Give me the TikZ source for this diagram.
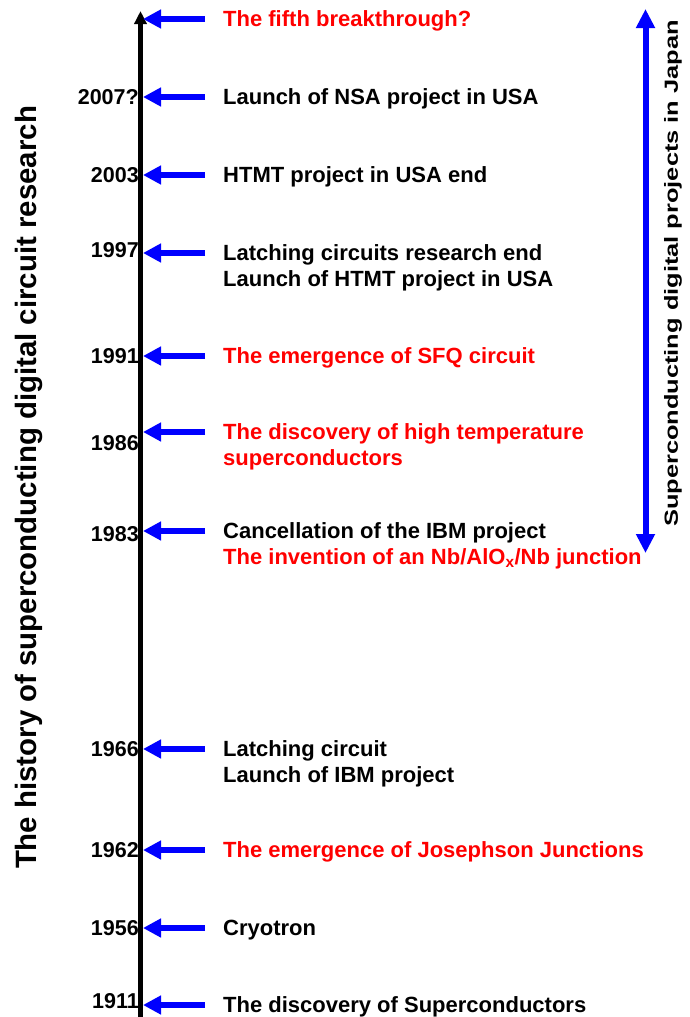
\documentclass[tikz,border=0pt]{standalone}
\usepackage{fontspec}
\setmainfont{Liberation Sans}
\usepackage{graphicx}
\usetikzlibrary{arrows.meta}
\definecolor{bleuFleche}{HTML}{0000FF}
\definecolor{rougeEvt}{HTML}{FF0000}
\tikzset{
  %% -- Axis and arrows --------------------------------------------------
  axe/.style         = {draw=black, line width=4.5pt,
                        -{Triangle[length=13pt, width=12pt]}},
  flecheEvt/.style   = {draw=bleuFleche, line width=6.5pt,
                        -{Triangle[length=18pt, width=18pt]}},
  flecheJapon/.style = {draw=bleuFleche, line width=6pt,
                        {Triangle[length=19pt, width=18pt]}-{Triangle[length=19pt, width=18pt]}},
  %%
  %% -- Text -------------------------------------------------------------
  %% every event line gets the same box, so its west anchor sits on the
  %% middle of the capitals, where the arrow comes in
  evt/.style         = {anchor=west, inner sep=0pt, text height=15.5pt,
                        text depth=0pt, font=\fontsize{22}{26}\selectfont\bfseries},
  evtRouge/.style    = {evt, text=rougeEvt},
  annee/.style       = {anchor=east, inner sep=0pt, text height=15pt,
                        text depth=0pt, font=\fontsize{21.5}{25}\selectfont\bfseries},
  titreVertical/.style = {rotate=90, inner sep=0pt, font=\bfseries},
}

\begin{document}
\begin{tikzpicture}[x=1pt, y=-1pt]
\useasboundingbox (0, 0) rectangle (689, 1017);

%% time axis
\coordinate (axeBas) at (140.5, 1017);
\coordinate (axeHaut) at (140.5, 11);
\draw[axe] (axeBas) -- (axeHaut);

%% years
\node[annee] (a2007) at (139, 97)  {2007?};
\node[annee] (a2003) at (139, 175) {2003};
\node[annee] (a1997) at (139, 250) {1997};
\node[annee] (a1991) at (139, 356) {1991};
\node[annee] (a1986) at (139, 443) {1986};
\node[annee] (a1983) at (139, 534) {1983};
\node[annee] (a1966) at (139, 749) {1966};
\node[annee] (a1962) at (139, 850) {1962};
\node[annee] (a1956) at (139, 928) {1956};
\node[annee] (a1911) at (139, 1001) {1911};

%% events
\node[evtRouge] (eNext) at (223, 19)  {The fifth breakthrough?};
\node[evt] (e2007)  at (223, 97)  {Launch of NSA project in USA};
\node[evt] (e2003)  at (223, 175) {HTMT project in USA end};
\node[evt] (e1997a) at (223, 253) {Latching circuits research end};
\node[evt] (e1997b) at (223, 279) {Launch of HTMT project in USA};
\node[evtRouge] (e1991) at (223, 356) {The emergence of SFQ circuit};
\node[evtRouge] (e1986a) at (223, 432) {The discovery of high temperature};
\node[evtRouge] (e1986b) at (223, 458) {superconductors};
\node[evt] (e1983a) at (223, 531) {Cancellation of the IBM project};
\node[evtRouge] (e1983b) at (223, 557) {The invention of an Nb/AlO\textsubscript{x}/Nb junction};
\node[evt] (e1966a) at (223, 749) {Latching circuit};
\node[evt] (e1966b) at (223, 775) {Launch of IBM project};
\node[evtRouge] (e1962) at (223, 850) {The emergence of Josephson Junctions};
\node[evt] (e1956)  at (223, 928) {Cryotron};
\node[evt] (e1911)  at (223, 1005) {The discovery of Superconductors};

%% arrows onto the axis
\draw[flecheEvt] ([xshift=-18pt]eNext.west)  -- ([xshift=2.5pt]eNext.west -| axeBas);
\draw[flecheEvt] ([xshift=-18pt]e2007.west)  -- ([xshift=2.5pt]e2007.west -| axeBas);
\draw[flecheEvt] ([xshift=-18pt]e2003.west)  -- ([xshift=2.5pt]e2003.west -| axeBas);
\draw[flecheEvt] ([xshift=-18pt]e1997a.west) -- ([xshift=2.5pt]e1997a.west -| axeBas);
\draw[flecheEvt] ([xshift=-18pt]e1991.west)  -- ([xshift=2.5pt]e1991.west -| axeBas);
\draw[flecheEvt] ([xshift=-18pt]e1986a.west) -- ([xshift=2.5pt]e1986a.west -| axeBas);
\draw[flecheEvt] ([xshift=-18pt]e1983a.west) -- ([xshift=2.5pt]e1983a.west -| axeBas);
\draw[flecheEvt] ([xshift=-18pt]e1966a.west) -- ([xshift=2.5pt]e1966a.west -| axeBas);
\draw[flecheEvt] ([xshift=-18pt]e1962.west)  -- ([xshift=2.5pt]e1962.west -| axeBas);
\draw[flecheEvt] ([xshift=-18pt]e1956.west)  -- ([xshift=2.5pt]e1956.west -| axeBas);
\draw[flecheEvt] ([xshift=-18pt]e1911.west)  -- ([xshift=2.5pt]e1911.west -| axeBas);

%% side titles
\node[titreVertical, font=\fontsize{29.4}{34}\selectfont\bfseries] (titreHist) at (28.5, 487.5)
     {The history of superconducting digital circuit research};
\node[titreVertical] (titreJapon) at (673, 273.5)
     {\scalebox{1.337}[1]{\fontsize{19}{22}\selectfont Superconducting digital projects in Japan}};
\coordinate (japonHaut) at (645.5, 9);
\coordinate (japonBas) at (645.5, 553);
\draw[flecheJapon] (japonBas) -- (japonHaut);

\end{tikzpicture}
\end{document}
